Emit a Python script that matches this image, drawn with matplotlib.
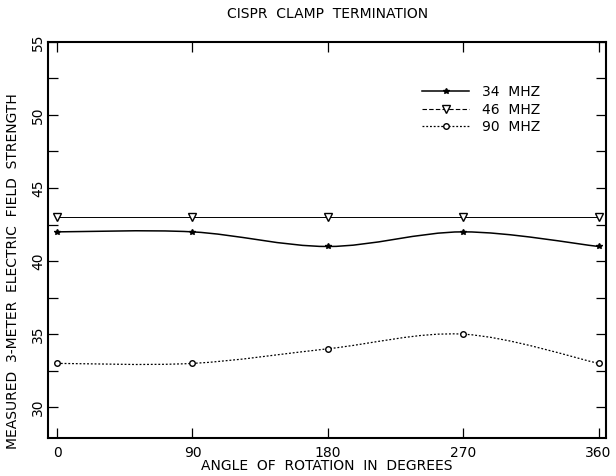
import matplotlib
matplotlib.use("Agg")
import matplotlib.pyplot as plt
from matplotlib.path import Path
from matplotlib.patches import PathPatch
from matplotlib.lines import Line2D
from matplotlib.ticker import MultipleLocator

# data
angles = [0, 90, 180, 270, 360]
mhz34 = [42, 42, 41, 42, 41]
mhz46 = [43, 43, 43, 43, 43]
mhz90 = [33, 33, 34, 35, 33]
labels = ['34  MHZ', '46  MHZ', '90  MHZ']


def smooth_path(xs, ys):
    # bezier curve through every point (catmull-rom style control points)
    pts = list(zip(xs, ys))
    verts = [pts[0]]
    codes = [Path.MOVETO]
    n = len(pts)
    for i in range(n - 1):
        p0 = pts[max(i - 1, 0)]
        p1 = pts[i]
        p2 = pts[i + 1]
        p3 = pts[min(i + 2, n - 1)]
        c1 = (p1[0] + (p2[0] - p0[0]) / 6, p1[1] + (p2[1] - p0[1]) / 6)
        c2 = (p2[0] - (p3[0] - p1[0]) / 6, p2[1] - (p3[1] - p1[1]) / 6)
        verts += [c1, c2, p2]
        codes += [Path.CURVE4] * 3
    return Path(verts, codes)


fig = plt.figure(figsize=(6.16, 4.76), dpi=100)
ax = fig.add_axes([0.078, 0.08, 0.906, 0.832])

ax.add_patch(PathPatch(smooth_path(angles, mhz34), fill=False, color='black', lw=1.1))
ax.plot(angles, mhz34, linestyle='none', marker='*', ms=4, color='black')

ax.plot(angles, mhz46, color='black', lw=0.7, marker='v', ms=5.5,
        mfc='white', mec='black', mew=1.0)

ax.add_patch(PathPatch(smooth_path(angles, mhz90), fill=False, color='black',
                       lw=0.9, linestyle=(0, (1.5, 1.5))))
ax.plot(angles, mhz90, linestyle='none', marker='o', ms=4, mfc='white',
        mec='black', mew=1.0)

ax.set_xlim(-6, 365)
ax.set_ylim(27.9, 55)
ax.set_xticks(angles)
ax.yaxis.set_major_locator(MultipleLocator(5))
ax.yaxis.set_minor_locator(MultipleLocator(2.5))
ax.set_yticks([30, 35, 40, 45, 50, 55])
ax.tick_params(which='both', direction='in', top=True, right=True,
               length=7, width=0.9, labelsize=10)
ax.tick_params(axis='x', pad=6)
ax.tick_params(axis='y', pad=2)
for lab in ax.get_yticklabels():
    lab.set_rotation(90)
    lab.set_va('center')
for s in ax.spines.values():
    s.set_linewidth(1.5)

ax.set_title('CISPR  CLAMP  TERMINATION', fontsize=10, pad=17)
ax.set_xlabel('ANGLE  OF  ROTATION  IN  DEGREES', fontsize=10, labelpad=-1)
ax.set_ylabel('MEASURED  3-METER  ELECTRIC  FIELD  STRENGTH', fontsize=10)
ax.yaxis.set_label_coords(-0.05, 0.42)

handles = [
    Line2D([], [], color='black', lw=1.1, marker='*', ms=4),
    Line2D([], [], color='black', lw=0.8, linestyle=(0, (4, 2)), marker='v', ms=5.5,
           mfc='white', mec='black'),
    Line2D([], [], color='black', lw=0.9, linestyle=(0, (1.5, 1.5)), marker='o',
           ms=4, mfc='white', mec='black'),
]
ax.legend(handles, labels, loc='upper left', bbox_to_anchor=(0.658, 0.908),
          frameon=False, fontsize=10, handlelength=3.4, handletextpad=0.9,
          labelspacing=0.25, borderpad=0)

fig.savefig('out.png', dpi=100)
